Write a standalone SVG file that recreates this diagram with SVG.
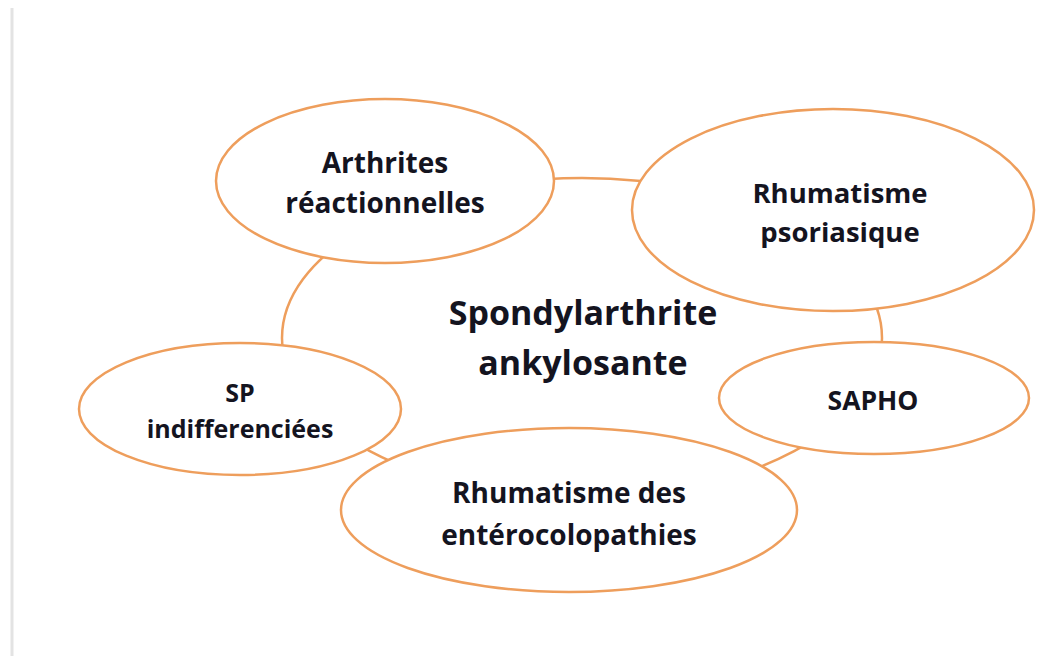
<svg xmlns="http://www.w3.org/2000/svg" width="1039" height="656" viewBox="0 0 1039 656">
<style>
.sh{fill:#ffffff;stroke:#EE9E5C;stroke-width:2.5}
.t{font-family:"Open Sans","Liberation Sans",sans-serif;font-weight:700;fill:#14141f;text-anchor:middle;font-size:25px}
.big{font-size:34px}
.l{font-size:28px}
</style>
<rect width="1039" height="656" fill="#ffffff"/>
<line x1="12" y1="8" x2="12" y2="656" stroke="#e3e3e3" stroke-width="3"/>
<g id="connectors"></g>
<g id="center">
<ellipse class="sh" cx="582" cy="338" rx="300" ry="160"/>
<text class="t big" x="583" y="325">Spondylarthrite</text>
<text class="t big" x="583" y="375">ankylosante</text>
</g>
<g id="arthrites">
<ellipse class="sh" cx="385" cy="181" rx="169" ry="82"/>
<text class="t l" x="385" y="173">Arthrites</text>
<text class="t l" x="385" y="213">réactionnelles</text>
</g>
<g id="psoriasique">
<ellipse class="sh" cx="833" cy="210" rx="201" ry="101"/>
<text class="t" x="840" y="203" style="font-size:27.5px">Rhumatisme</text>
<text class="t" x="840" y="242" style="font-size:27.5px">psoriasique</text>
</g>
<g id="sp">
<ellipse class="sh" cx="240" cy="409" rx="161" ry="66"/>
<text class="t" x="240" y="402">SP</text>
<text class="t" x="240" y="438">indifferenciées</text>
</g>
<g id="sapho">
<ellipse class="sh" cx="874" cy="398" rx="155" ry="56"/>
<text class="t" x="873" y="410" style="font-size:26.5px">SAPHO</text>
</g>
<g id="entero">
<ellipse class="sh" cx="569" cy="510" rx="228" ry="82"/>
<text class="t l" x="569" y="503">Rhumatisme des</text>
<text class="t l" x="569" y="545">entérocolopathies</text>
</g>
</svg>
